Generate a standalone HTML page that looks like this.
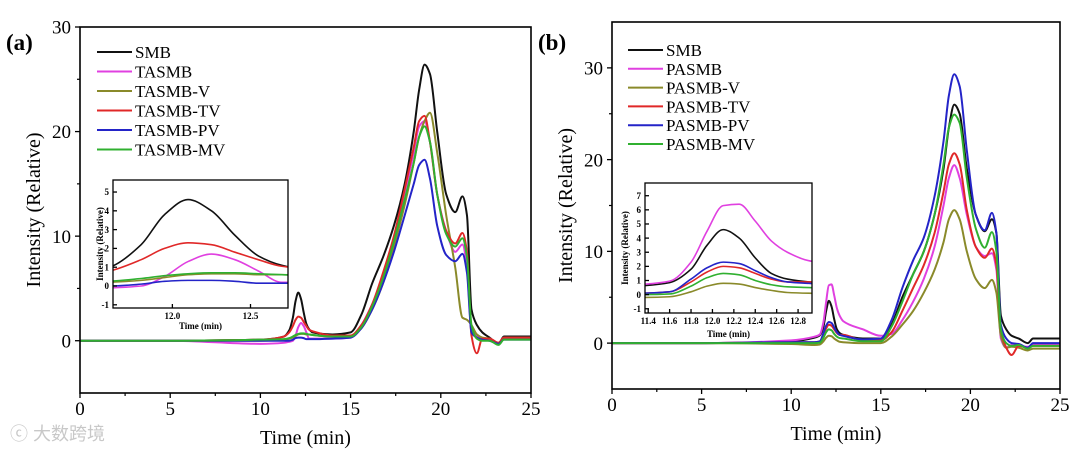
<!DOCTYPE html>
<html><head><meta charset="utf-8"><style>
html,body{margin:0;padding:0;background:#fff;width:1080px;height:452px;overflow:hidden}
svg{display:block;font-family:"Liberation Serif",serif}
</style></head><body>
<svg id="c" width="1080" height="452" viewBox="0 0 1080 452">
<text x="6" y="50" font-size="23" font-weight="bold">(a)</text>
<text x="538" y="50" font-size="23" font-weight="bold">(b)</text>
<text x="10" y="440" font-size="18" fill="#c8c8c8" font-family="'Liberation Sans','Noto Sans CJK SC',sans-serif">ⓒ 大数跨境</text>
</svg>
<script>
const times=[0,5,10,11.3,11.6,11.8,11.95,12.1,12.25,12.4,12.55,12.7,12.9,14,15,15.6,16.2,16.8,17.4,18,18.5,18.8,19.1,19.4,19.8,20.3,20.8,21.2,21.45,21.7,22,22.3,22.7,23.2,23.5,24,25];
const namesA=["SMB","TASMB","TASMB-V","TASMB-TV","TASMB-PV","TASMB-MV"];
const namesB=["SMB","PASMB","PASMB-V","PASMB-TV","PASMB-PV","PASMB-MV"];
const colors=["#111111","#e040e0","#8a8a2a","#e02828","#2424c8","#30b030"];
const a_SMB=[0,0,0.1,0.4,1.0,2.2,3.8,4.6,4.0,2.7,1.6,1.1,0.8,0.6,0.8,2.5,5.5,8,11,15,20,24,26.4,25.5,20,14,12.3,13.8,12,3,1.5,0.8,0.3,-0.3,0.4,0.4,0.4];
const a_TASMB=[0,0,-0.3,-0.2,-0.1,0,0.5,1.3,1.7,1.4,0.8,0.2,0.2,0.2,0.3,1.5,3.5,6,9.5,14,18,20.5,21,19,14,10.5,8.5,9.2,7,1,0.5,0.2,0.2,-0.3,0.3,0.3,0.3];
const a_V=[0,0,0,0.1,0.2,0.3,0.45,0.6,0.65,0.65,0.6,0.6,0.55,0.4,0.4,1.2,3,5.5,9,13,17,19.5,21,21.8,18,12,7,2.2,2,1.5,0.6,0.3,0.2,-0.2,0.3,0.3,0.3];
const a_TV=[0,0,0.1,0.4,0.8,1.4,2.0,2.3,2.2,1.8,1.4,1.05,0.9,0.5,0.5,1.5,3.5,6.5,10,14.5,18.5,21,21.5,19,14,10.5,9.3,10.3,8.5,0.5,-1.2,0.2,0.2,-0.2,0.3,0.3,0.3];
const a_PV=[0,0,0,0,0,0.1,0.25,0.3,0.3,0.25,0.15,0.15,0.15,0.2,0.3,1.2,3,5.5,8.5,12,15,16.8,17.3,15.5,11,8.2,7.6,8.3,6.5,0.8,0.3,0.1,0,-0.3,0.1,0.1,0.1];
const a_MV=[0,0,0.1,0.15,0.25,0.4,0.55,0.65,0.7,0.7,0.65,0.6,0.55,0.4,0.4,1.3,3.3,6,9.5,13.5,17,19.5,20.5,19,14,10.2,9.0,9.8,8,1.5,0.2,0,0,-0.4,0.1,0.1,0.1];
const b_SMB=[0,0,0.2,0.6,0.85,1.8,3.5,4.6,4.0,2.6,1.5,1.1,0.9,0.5,0.5,2,5,7.5,10,14,19,23.5,26,25,19,14,12.2,13.5,12,3,1.5,0.8,0.5,0,0.5,0.5,0.5];
const b_PASMB=[0,0,0.3,0.7,0.95,2.3,4.5,6.3,6.4,5.2,3.8,3.0,2.4,1.5,0.8,1,2.5,4.5,7,10.5,15,18,19.4,18,14,10.5,9.5,9.8,8,0.5,-0.5,-0.2,-0.3,-0.4,-0.2,-0.2,-0.2];
const b_V=[0,0,-0.1,-0.2,-0.15,0.2,0.6,0.8,0.75,0.5,0.3,0.15,0.1,0,0,0.7,2,3.5,5.5,8,11,13.5,14.5,13.5,10,7,6,6.9,5.5,0.8,-0.5,-0.4,-0.5,-0.8,-0.6,-0.6,-0.6];
const b_TV=[0,0,0.1,0.1,0.2,0.9,1.6,2.0,1.9,1.5,1.1,0.9,0.9,0.3,0.3,1.2,3.5,6,8.5,12,16.5,19.5,20.7,19.5,14.5,10.5,9.3,10.3,8.5,1.5,-0.5,-1.3,-0.3,-0.5,-0.3,-0.3,-0.3];
const b_PV=[0,0,0.1,0.1,0.2,1.1,1.9,2.3,2.2,1.7,1.2,0.9,0.8,0.4,0.5,2.5,6,9,11.5,16,22,27,29.3,28,21,14,12.3,14.2,12,2,0.5,0,-0.1,-0.5,0,0,0];
const b_MV=[0,0,0,0,0.05,0.6,1.2,1.5,1.4,1.0,0.7,0.55,0.5,0.2,0.2,1.8,4.5,7.5,10,14,19.5,23.5,24.9,24,18,12.5,10.4,12.1,10,1.5,0,-0.3,-0.2,-0.6,-0.3,-0.3,-0.3];
const mainTicksX=[0,5,10,15,20,25];
const mainTicksYA=[0,10,20,30];
const mainTicksYB=[0,10,20,30];
const insetTicksXA=[12.0,12.5];
const insetTicksYA=[-1,0,1,2,3,4,5];
const insetTicksXB=[11.4,11.6,11.8,12.0,12.2,12.4,12.6,12.8];
const insetTicksYB=[-1,0,1,2,3,4,5,6,7];

const NS="http://www.w3.org/2000/svg";
const svg=document.getElementById('c');
function el(tag,attrs,parent){const e=document.createElementNS(NS,tag);for(const k in attrs)e.setAttribute(k,attrs[k]);(parent||svg).appendChild(e);return e;}
function txt(s,attrs,parent){const e=el('text',attrs,parent);e.textContent=s;return e;}
function monoPath(px,py){
  const n=px.length,d=[],m=new Array(n);
  for(let i=0;i<n-1;i++)d.push((py[i+1]-py[i])/(px[i+1]-px[i]));
  m[0]=d[0];m[n-1]=d[n-2];
  for(let i=1;i<n-1;i++){if(d[i-1]*d[i]<=0)m[i]=0;else{const h0=px[i]-px[i-1],h1=px[i+1]-px[i];const w1=2*h1+h0,w2=h1+2*h0;m[i]=(w1+w2)/(w1/d[i-1]+w2/d[i]);}}
  let s="M"+px[0].toFixed(2)+","+py[0].toFixed(2);
  for(let i=0;i<n-1;i++){const h=(px[i+1]-px[i])/3;s+="C"+(px[i]+h).toFixed(2)+","+(py[i]+m[i]*h).toFixed(2)+" "+(px[i+1]-h).toFixed(2)+","+(py[i+1]-m[i+1]*h).toFixed(2)+" "+px[i+1].toFixed(2)+","+py[i+1].toFixed(2);}
  return s;
}
let clipId=0;
function panel(cfg){
  const g=el('g',{});
  
  
  const sx=v=>cfg.x0+(v-cfg.xmin)/(cfg.xmax-cfg.xmin)*(cfg.x1-cfg.x0);
  const sy=v=>cfg.y1-(v-cfg.ymin)/(cfg.ymax-cfg.ymin)*(cfg.y1-cfg.y0);
  const cid='clip'+(clipId++);
  const cp=el('clipPath',{id:cid},g);el('rect',{x:cfg.x0,y:cfg.y0,width:cfg.x1-cfg.x0,height:cfg.y1-cfg.y0},cp);
  if(cfg.inset)el('rect',{x:cfg.x0,y:cfg.y0,width:cfg.x1-cfg.x0,height:cfg.y1-cfg.y0,fill:'#fff'},g);
  const lg=el('g',{'clip-path':'url(#'+cid+')'},g);
  cfg.series.forEach((s,i)=>{
    const p=el('path',{d:monoPath(times.map(sx),s.map(sy)),fill:'none',stroke:colors[i],'stroke-width':cfg.sw,'stroke-linejoin':'round'},lg);
    
    
  });
  const fr=el('rect',{x:cfg.x0,y:cfg.y0,width:cfg.x1-cfg.x0,height:cfg.y1-cfg.y0,fill:'none',stroke:'#000','stroke-width':cfg.inset?1.3:1.6},g);
  
  
  const tl=cfg.inset?-4:5, fs=cfg.tfs;
  cfg.tx.forEach(v=>{const x=sx(v);el('line',{x1:x,x2:x,y1:cfg.y1,y2:cfg.y1+tl,stroke:'#000','stroke-width':1.3},g);
    const t=txt(cfg.inset?v.toFixed(1):String(v),{x:x,y:cfg.y1+cfg.txoff,'font-size':fs,'text-anchor':'middle','font-weight':cfg.inset?'bold':'normal'},g);
    });
  cfg.ty.forEach(v=>{const y=sy(v);el('line',{x1:cfg.x0,x2:cfg.x0-tl,y1:y,y2:y,stroke:'#000','stroke-width':1.3},g);
    const t=txt(String(v),{x:cfg.x0-cfg.tyoff,y:y+fs*0.35,'font-size':fs,'text-anchor':'end','font-weight':cfg.inset?'bold':'normal'},g);
    });
  if(!cfg.inset){
    for(let i=0;i<cfg.ty.length-1;i++){const y=sy((cfg.ty[i]+cfg.ty[i+1])/2);el('line',{x1:cfg.x0,x2:cfg.x0-3,y1:y,y2:y,stroke:'#000','stroke-width':1.2},g);}
    for(let i=0;i<cfg.tx.length-1;i++){const x=sx((cfg.tx[i]+cfg.tx[i+1])/2);el('line',{x1:x,x2:x,y1:cfg.y1,y2:cfg.y1+3,stroke:'#000','stroke-width':1.2},g);}
  }
  const xt=txt('Time (min)',{x:(cfg.x0+cfg.x1)/2,y:cfg.xlY,'font-size':cfg.lfs,'text-anchor':'middle','font-weight':cfg.inset?'bold':'normal'},g);
  
  const yt=txt('Intensity (Relative)',{x:0,y:0,'font-size':cfg.lfs,'text-anchor':'middle','font-weight':cfg.inset?'bold':'normal',transform:'translate('+cfg.ylX+','+((cfg.y0+cfg.y1)/2)+') rotate(-90)'},g);
  
  if(cfg.legend){
    const L=cfg.legend;
    const lgG=el('g',{},g);
    
    cfg.names.forEach((n,i)=>{const y=L.y+i*L.dy;
      const e=el('g',{},lgG);
      
      
      el('line',{x1:L.x,x2:L.x+L.w,y1:y,y2:y,stroke:colors[i],'stroke-width':2},e);
      txt(n,{x:L.x+L.w+3,y:y+6,'font-size':17},e);});
  }
}
panel({name:'panel-a',x0:80,x1:531,y0:27,y1:393,xmin:0,xmax:25,ymin:-5,ymax:30,series:[a_SMB,a_TASMB,a_V,a_TV,a_PV,a_MV],names:namesA,sw:2,tx:mainTicksX,ty:mainTicksYA,tfs:19,txoff:22,tyoff:9,lfs:20,xlY:444,ylX:40,legend:{x:97,y:52,dy:19.5,w:35}});
panel({name:'inset-a',inset:true,x0:113,x1:288,y0:180,y1:308,xmin:11.62,xmax:12.74,ymin:-1.17,ymax:5.64,series:[a_SMB,a_TASMB,a_V,a_TV,a_PV,a_MV],names:namesA,sw:1.6,tx:insetTicksXA,ty:insetTicksYA,tfs:9,txoff:11,tyoff:4,lfs:9,xlY:329,ylX:103});
panel({name:'panel-b',x0:612,x1:1060,y0:22,y1:389,xmin:0,xmax:25,ymin:-5,ymax:35,series:[b_SMB,b_PASMB,b_V,b_TV,b_PV,b_MV],names:namesB,sw:2,tx:mainTicksX,ty:mainTicksYB,tfs:19,txoff:22,tyoff:9,lfs:20,xlY:440,ylX:572,legend:{x:628,y:50,dy:18.8,w:35}});
panel({name:'inset-b',inset:true,x0:645,x1:812,y0:183,y1:313,xmin:11.37,xmax:12.93,ymin:-1.3,ymax:7.9,series:[b_SMB,b_PASMB,b_V,b_TV,b_PV,b_MV],names:namesB,sw:1.6,tx:insetTicksXB,ty:insetTicksYB,tfs:9,txoff:11,tyoff:4,lfs:9,xlY:337,ylX:628});
</script>
</body></html>
